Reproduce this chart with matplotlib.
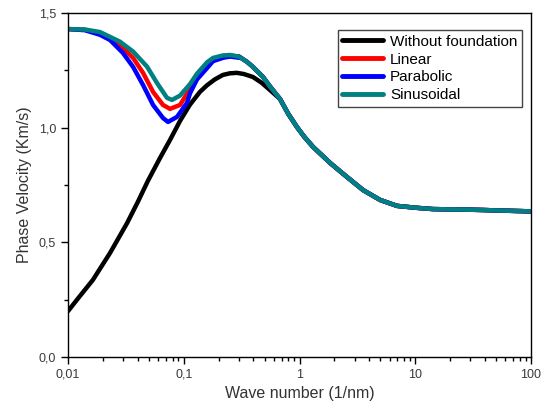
import matplotlib
matplotlib.use("Agg")
import matplotlib.pyplot as plt
from matplotlib.ticker import FuncFormatter, FixedLocator, LogLocator, NullFormatter

plt.rcParams['font.family'] = ['Liberation Sans', 'DejaVu Sans']

# shared high wave-number branch (all four curves coincide here)
tail_k = [0.679, 0.8, 0.95, 1.1, 1.31, 1.84, 2.57, 3.54, 4.96, 6.95, 10, 14.2, 25, 38.5, 60, 100]
tail_v = [1.125, 1.06, 1.003, 0.96, 0.916, 0.846, 0.785, 0.728, 0.685, 0.659, 0.651, 0.645, 0.643, 0.641, 0.638, 0.635]

free_k = [0.01, 0.0125, 0.0164, 0.0231, 0.0324, 0.04, 0.049, 0.0624, 0.076, 0.093, 0.113, 0.138,
          0.159, 0.185, 0.218, 0.25, 0.288, 0.33, 0.396, 0.47, 0.556]
free_v = [0.20, 0.262, 0.336, 0.454, 0.584, 0.675, 0.768, 0.868, 0.946, 1.03, 1.10, 1.156,
          1.185, 1.21, 1.23, 1.237, 1.239, 1.234, 1.221, 1.196, 1.164]

sin_k = [0.01, 0.014, 0.0189, 0.0281, 0.0365, 0.0482, 0.0587, 0.0717, 0.0792, 0.0929, 0.1133, 0.13,
         0.159, 0.179, 0.218, 0.251, 0.3, 0.352, 0.396, 0.484, 0.556]
sin_v = [1.43, 1.428, 1.417, 1.375, 1.332, 1.266, 1.195, 1.13, 1.121, 1.14, 1.19, 1.235,
         1.285, 1.304, 1.315, 1.317, 1.31, 1.287, 1.265, 1.221, 1.18]

lin_k = [0.01, 0.014, 0.0189, 0.0231, 0.0298, 0.0365, 0.0445, 0.0543, 0.0662, 0.0761, 0.0929,
         0.1133, 0.13, 0.159, 0.179, 0.22, 0.251, 0.3]
lin_v = [1.43, 1.427, 1.41, 1.391, 1.348, 1.304, 1.239, 1.156, 1.099, 1.082, 1.099,
         1.17, 1.22, 1.27, 1.295, 1.312, 1.315, 1.308]

par_k = [0.01, 0.014, 0.0189, 0.0231, 0.0298, 0.0365, 0.0445, 0.0543, 0.0662, 0.0731, 0.0875,
         0.1067, 0.1133, 0.13, 0.159, 0.179, 0.22, 0.251, 0.3]
par_v = [1.43, 1.425, 1.405, 1.382, 1.326, 1.265, 1.186, 1.099, 1.042, 1.025, 1.047,
         1.108, 1.15, 1.21, 1.26, 1.29, 1.305, 1.31, 1.305]

series = [
    ("Without foundation", free_k + tail_k, free_v + tail_v, "black"),
    ("Linear", lin_k + sin_k[-5:] + tail_k, lin_v + sin_v[-5:] + tail_v, "#ff0000"),
    ("Parabolic", par_k + sin_k[-5:] + tail_k, par_v + sin_v[-5:] + tail_v, "#0000ff"),
    ("Sinusoidal", sin_k + tail_k, sin_v + tail_v, "#008080"),
]

fig = plt.figure(figsize=(5.52, 4.12), dpi=100)
ax = fig.add_axes([68 / 552, 55 / 412, 463 / 552, 344 / 412])

for name, k, v, c in series:
    ax.plot(k, v, color=c, lw=3.2, label=name, solid_capstyle='round', solid_joinstyle='round')

ax.set_xscale('log')
ax.set_xlim(0.01, 100)
ax.set_ylim(0, 1.5)

comma = FuncFormatter(lambda x, p: ('%g' % x).replace('.', ','))
ax.xaxis.set_major_locator(FixedLocator([0.01, 0.1, 1, 10, 100]))
ax.xaxis.set_major_formatter(comma)
ax.xaxis.set_minor_locator(LogLocator(base=10, subs=range(2, 10)))
ax.xaxis.set_minor_formatter(NullFormatter())
ax.yaxis.set_major_locator(FixedLocator([0, 0.5, 1.0, 1.5]))
ax.yaxis.set_major_formatter(FuncFormatter(lambda y, p: ('%.1f' % y).replace('.', ',')))
ax.yaxis.set_minor_locator(FixedLocator([0.25, 0.75, 1.25]))

ax.tick_params(which='both', direction='out', labelsize=9, labelcolor='#3a3a3a', width=1)
ax.tick_params(which='major', length=5)
ax.tick_params(which='minor', length=3)
for s in ax.spines.values():
    s.set_linewidth(1)

ax.set_xlabel("Wave number (1/nm)", fontsize=11.5, color='#333333', labelpad=4)
ax.set_ylabel("Phase Velocity (Km/s)", fontsize=11.5, color='#333333', labelpad=5)

leg = ax.legend(loc='upper right', bbox_to_anchor=(0.981, 0.95), fontsize=11, frameon=True,
                fancybox=False, framealpha=1, edgecolor='#444444', handlelength=2.7,
                handletextpad=0.45, labelspacing=0.25, borderpad=0.3, borderaxespad=0)
leg.get_frame().set_linewidth(1)
for line in leg.get_lines():
    line.set_linewidth(3.5)

fig.savefig("out.png", dpi=100)
